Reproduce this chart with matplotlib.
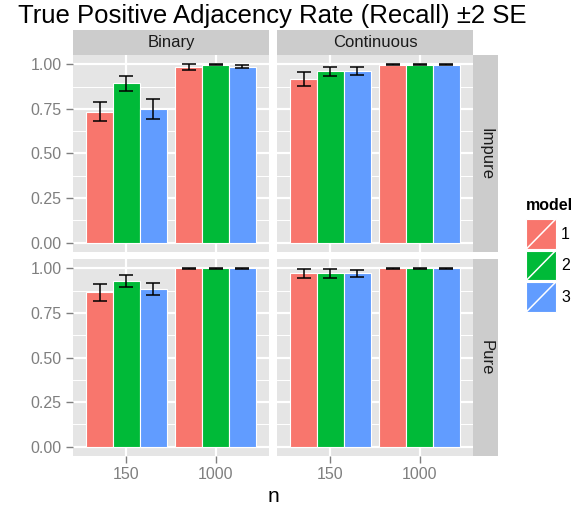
import matplotlib
matplotlib.use("Agg")
import matplotlib.pyplot as plt
from matplotlib.patches import Rectangle

plt.rcParams["font.family"] = ["Liberation Sans", "DejaVu Sans"]

# recall by facet: (data type, purity) -> bar heights for n=150 and n=1000, models 1..3
n_levels = ["150", "1000"]
models = ["1", "2", "3"]
col_facets = ["Binary", "Continuous"]
row_facets = ["Impure", "Pure"]

binary_impure = [[0.734, 0.893, 0.750], [0.983, 0.997, 0.987]]
binary_impure_se2 = [[0.054, 0.042, 0.057], [0.016, 0.003, 0.0065]]
cont_impure = [[0.916, 0.961, 0.962], [0.998, 0.998, 0.998]]
cont_impure_se2 = [[0.040, 0.024, 0.021], [0.002, 0.002, 0.002]]
binary_pure = [[0.866, 0.928, 0.886], [0.999, 0.999, 0.999]]
binary_pure_se2 = [[0.047, 0.035, 0.033], [0.001, 0.001, 0.001]]
cont_pure = [[0.972, 0.972, 0.972], [0.999, 0.999, 0.999]]
cont_pure_se2 = [[0.026, 0.026, 0.021], [0.001, 0.001, 0.001]]

colors = ["#F8766D", "#00BA38", "#619CFF"]

W, H = 588, 508
fig = plt.figure(figsize=(W / 100, H / 100), dpi=100)


def px_axes(x0, y0, x1, y1, **kw):
    """axes from pixel box (top-left origin)"""
    return fig.add_axes([x0 / W, 1 - y1 / H, (x1 - x0) / W, (y1 - y0) / H], **kw)


panels = {
    (0, 0): (binary_impure, binary_impure_se2),
    (0, 1): (cont_impure, cont_impure_se2),
    (1, 0): (binary_pure, binary_pure_se2),
    (1, 1): (cont_pure, cont_pure_se2),
}
xs_left = [(72.7, 269.3), (276.7, 473.3)]
ys_top = [(55.4, 251.6), (259.4, 455.6)]
bw = 0.3

for (r, c), (vals, errs) in panels.items():
    ax = px_axes(xs_left[c][0], ys_top[r][0], xs_left[c][1], ys_top[r][1])
    ax.set_facecolor("#E5E5E5")
    for s in ax.spines.values():
        s.set_visible(False)
    ax.set_xlim(0.4, 2.6)
    ax.set_ylim(-0.05, 1.05)
    ax.set_yticks([0, 0.25, 0.5, 0.75, 1.0])
    ax.set_yticks([0.125, 0.375, 0.625, 0.875], minor=True)
    ax.set_xticks([1, 2])
    ax.grid(True, which="major", color="white", linewidth=1.6)
    ax.grid(True, which="minor", axis="y", color="white", linewidth=0.7)
    ax.set_axisbelow(True)
    for i in range(len(n_levels)):
        for j in range(len(models)):
            x = i + 1 + (j - 1) * bw
            ax.bar(x, vals[i][j], width=bw, color=colors[j], edgecolor="white",
                   linewidth=0.8, zorder=2)
            ax.errorbar(x, vals[i][j], yerr=errs[i][j], color="black",
                        linewidth=1.1, capsize=5.2, capthick=1.1, zorder=3)
    ax.tick_params(which="both", length=0)
    ax.tick_params(which="major", colors="#7F7F7F", labelsize=11.5, pad=3)
    if c == 0:
        ax.set_yticklabels(["0.00", "0.25", "0.50", "0.75", "1.00"])
        ax.tick_params(axis="y", which="major", length=5, width=1)
    else:
        ax.set_yticklabels([])
    if r == 1:
        ax.set_xticklabels(n_levels)
        ax.tick_params(axis="x", which="major", length=5, width=1)
    else:
        ax.set_xticklabels([])

# facet strips
for c, lab in enumerate(col_facets):
    sx = px_axes(xs_left[c][0], 30, xs_left[c][1], 55.4)
    sx.set_facecolor("#CCCCCC")
    sx.set_xticks([]); sx.set_yticks([])
    for s in sx.spines.values():
        s.set_visible(False)
    sx.text(0.5, 0.5, lab, ha="center", va="center", fontsize=12, color="#1A1A1A",
            transform=sx.transAxes)
for r, lab in enumerate(row_facets):
    sy = px_axes(473.3, ys_top[r][0], 498, ys_top[r][1])
    sy.set_facecolor("#CCCCCC")
    sy.set_xticks([]); sy.set_yticks([])
    for s in sy.spines.values():
        s.set_visible(False)
    sy.text(0.5, 0.5, lab, ha="center", va="center", rotation=-90, fontsize=12,
            color="#1A1A1A", transform=sy.transAxes)

fig.text(18 / W, 1 - 23 / H, "True Positive Adjacency Rate (Recall) \u00b12 SE",
         fontsize=18.5, va="baseline", ha="left", color="black")
fig.text(273 / W, 1 - 496 / H, "n", fontsize=15, ha="center", va="center")

# legend
lg = px_axes(515, 190, 588, 320)
lg.set_xlim(515, 588)
lg.set_ylim(320, 190)
lg.axis("off")
lg.text(526, 205, "model", fontsize=11.5, fontweight="bold", va="center", ha="left")
key_tops = [219.3, 250.7, 282.3]
for k, (top, col) in enumerate(zip(key_tops, colors)):
    lg.add_patch(Rectangle((526, top), 30, 29.5, facecolor=col, edgecolor="white",
                           linewidth=0.8))
    lg.plot([527, 555], [top + 29, top + 0.5], color="white", linewidth=1.1)
    lg.text(561, top + 15, models[k], fontsize=11.5, va="center", ha="left")

fig.savefig("out.png", dpi=100)
